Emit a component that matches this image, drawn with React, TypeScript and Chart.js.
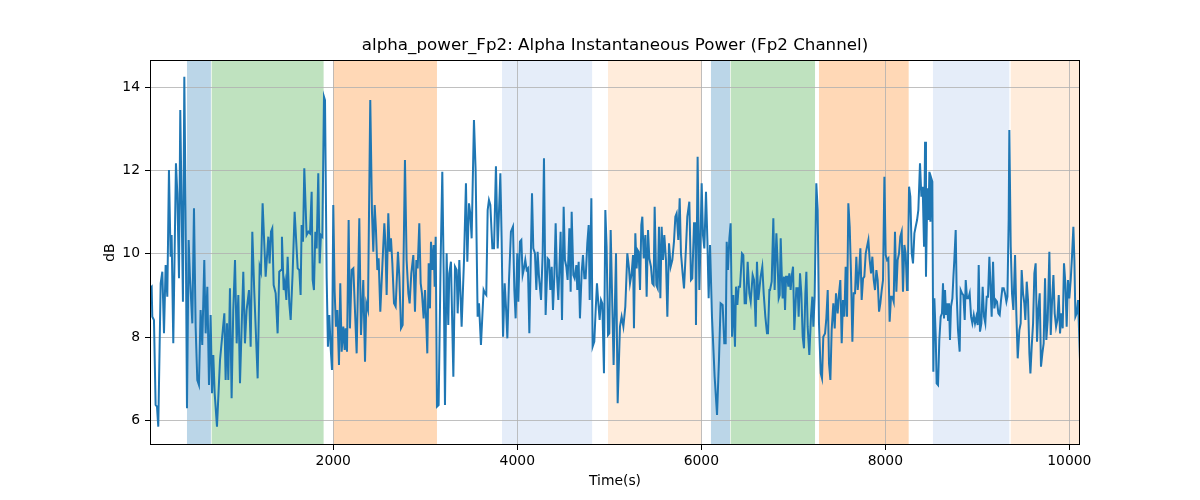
import { useEffect, useRef } from "react";
import { Chart, registerables } from "chart.js";

Chart.register(...registerables);

// sample times (s) and alpha power (dB) in six stretches
const timeSeg1 = [8, 26, 33, 51, 69, 84, 98, 124, 142, 160, 178, 196, 214, 232, 243, 261, 290, 305, 323, 337, 352, 366, 381, 395, 410, 428, 442, 468, 486, 504, 522, 540, 558, 576, 598, 613, 631, 649, 667, 682, 696, 711, 736, 769, 816, 830, 845, 859, 877, 895, 913, 932, 950, 968, 986, 1022, 1040, 1058, 1084, 1102, 1120, 1142, 1178, 1200, 1214, 1232, 1265, 1294, 1308, 1323, 1337, 1352, 1374, 1395, 1413, 1432, 1442, 1461, 1475, 1490, 1504, 1522, 1537, 1558, 1580, 1613, 1631, 1645, 1656, 1671, 1685];
const powerSeg1 = [9.17, 9.21, 8.49, 8.41, 6.37, 6.33, 5.85, 9.29, 9.57, 8.09, 9.73, 8.97, 12.01, 9.93, 10.45, 7.85, 12.17, 11.45, 9.41, 13.45, 11.05, 8.85, 14.25, 11.05, 6.29, 10.33, 9.45, 8.33, 11.09, 8.25, 6.97, 6.85, 8.65, 7.81, 9.85, 8.09, 9.21, 6.85, 8.53, 6.65, 7.57, 6.65, 5.85, 7.45, 8.57, 6.97, 8.33, 6.97, 9.17, 6.53, 8.65, 9.85, 7.85, 9.01, 6.89, 9.57, 7.85, 8.65, 9.13, 7.77, 10.53, 9.05, 7.01, 9.69, 9.57, 11.21, 9.45, 10.41, 9.77, 10.53, 10.61, 9.25, 9.05, 8.09, 9.57, 9.61, 10.41, 9.13, 9.33, 8.89, 9.93, 8.81, 8.41, 9.53, 11.01, 9.65, 9.61, 9.01, 10.69, 10.29, 12.05];

const timeSeg2 = [1710, 1729, 1747, 1765, 1776, 1790, 1805, 1819, 1837, 1852, 1866, 1881, 1899, 1910, 1928, 1942, 1957, 1971, 1986, 2000, 2015, 2029, 2044, 2062, 2076, 2091, 2109, 2124, 2134, 2149, 2167, 2181, 2200, 2218, 2254, 2283, 2301, 2326, 2345, 2359, 2377, 2402, 2421, 2435, 2450, 2464, 2479, 2493, 2511, 2537, 2555, 2566, 2580, 2598, 2613, 2627, 2642, 2660, 2678, 2703, 2718, 2736, 2754, 2779, 2797, 2816, 2830, 2848, 2870, 2888, 2903, 2917, 2935, 2950, 2964, 2982, 2997, 3008, 3022, 3037, 3051, 3062, 3076, 3091, 3102, 3113, 3127, 3145, 3167, 3185, 3200, 3214, 3232, 3250, 3261, 3279, 3305, 3323, 3341, 3352, 3370];
const powerSeg2 = [10.45, 10.53, 10.49, 11.49, 9.37, 9.13, 10.53, 10.13, 11.93, 9.77, 10.45, 10.41, 13.77, 13.69, 9.45, 7.77, 8.53, 7.77, 7.21, 11.17, 9.09, 8.25, 8.65, 7.33, 9.29, 7.65, 8.25, 7.69, 8.21, 7.65, 10.81, 8.21, 9.61, 9.65, 7.61, 10.85, 8.05, 9.37, 7.41, 8.81, 8.65, 13.69, 10.97, 10.05, 11.17, 10.57, 9.61, 9.89, 8.61, 9.89, 10.73, 10.29, 9.01, 10.97, 10.05, 10.37, 9.77, 8.81, 8.73, 10.05, 9.45, 8.21, 8.29, 12.25, 9.85, 9.05, 8.81, 9.53, 9.97, 8.61, 9.85, 9.65, 10.73, 9.29, 9.05, 8.45, 9.13, 8.49, 7.61, 9.77, 8.69, 10.29, 9.61, 10.21, 9.21, 10.41, 6.33, 6.37, 9.85, 11.97, 9.53, 6.37, 10.01, 8.29, 9.53, 9.81, 7.05, 9.69, 9.61, 8.57, 9.85];

const timeSeg3 = [3395, 3421, 3442, 3457, 3475, 3489, 3504, 3529, 3547, 3569, 3584, 3605, 3634, 3649, 3663, 3678, 3692, 3707, 3729, 3747, 3768, 3787, 3816, 3830, 3845, 3863, 3877, 3892, 3910, 3931, 3953, 3968, 3982, 4000, 4011, 4029, 4044, 4058, 4073, 4087, 4102, 4116, 4131, 4160, 4174, 4192, 4207, 4221, 4236, 4258, 4276, 4290, 4308, 4330, 4345, 4359, 4374, 4388, 4403, 4417, 4431, 4446, 4471, 4486, 4504, 4518, 4533, 4547, 4566, 4580, 4591, 4609, 4623, 4642, 4652, 4667, 4681, 4700, 4714, 4729, 4743, 4761, 4776, 4787, 4805, 4819, 4837, 4852, 4866, 4881, 4895, 4910, 4924, 4942, 4957, 4971, 4986, 5000, 5015, 5033, 5047];
const powerSeg3 = [8.25, 9.85, 11.69, 9.81, 11.21, 10.97, 10.37, 13.21, 12.01, 8.49, 8.81, 7.81, 9.13, 9.05, 9.01, 11.05, 11.29, 11.17, 10.13, 10.13, 12.1, 10.13, 11.93, 10.33, 8.01, 9.29, 8.73, 7.97, 9.37, 10.53, 10.65, 9.13, 8.45, 10.01, 8.85, 10.29, 10.33, 9.49, 9.65, 9.85, 9.61, 9.65, 8.09, 11.45, 10.13, 10.01, 9.13, 10.05, 9.45, 8.89, 10.01, 12.29, 8.53, 9.89, 9.85, 9.13, 9.69, 8.65, 9.49, 10.73, 9.49, 8.89, 10.53, 8.41, 11.13, 9.85, 9.69, 9.37, 10.61, 9.09, 11.01, 9.49, 9.41, 9.73, 9.13, 9.81, 8.45, 9.57, 9.97, 9.41, 9.41, 10.25, 10.69, 8.89, 11.33, 7.77, 7.89, 8.65, 9.29, 8.81, 8.41, 8.89, 8.81, 7.13, 11.05, 10.17, 8.05, 8.09, 10.57, 8.73, 7.33];

const timeSeg4 = [5073, 5091, 5116, 5134, 5153, 5174, 5196, 5214, 5225, 5243, 5258, 5268, 5283, 5297, 5308, 5319, 5334, 5348, 5359, 5374, 5392, 5406, 5421, 5435, 5453, 5468, 5482, 5493, 5511, 5526, 5540, 5555, 5569, 5584, 5598, 5616, 5631, 5649, 5667, 5685, 5703, 5718, 5732, 5750, 5765, 5779, 5797, 5812, 5834, 5848, 5870, 5888, 5902, 5921, 5935, 5942, 5960, 5979, 5993, 6004, 6018, 6033, 6051, 6066, 6080, 6095, 6116, 6145, 6171, 6192, 6210, 6232, 6250, 6265, 6276, 6290, 6305, 6319, 6334, 6348, 6366, 6377, 6392, 6406, 6421, 6442, 6457, 6471, 6486, 6504, 6522, 6537, 6558, 6573, 6591, 6605, 6620, 6645, 6663, 6678, 6696, 6714, 6725, 6740];
const powerSeg4 = [10.01, 6.41, 8.25, 8.49, 8.25, 8.73, 10.01, 9.65, 9.29, 9.53, 9.97, 8.21, 10.49, 9.65, 10.09, 10.05, 9.13, 10.69, 10.89, 9.89, 10.45, 8.97, 10.57, 9.89, 9.69, 9.29, 9.25, 11.13, 9.25, 9.17, 10.65, 8.93, 10.65, 9.85, 10.45, 9.85, 8.49, 10.25, 9.69, 9.85, 10.29, 10.89, 10.97, 10.33, 11.33, 10.01, 9.53, 9.17, 10.17, 10.89, 11.25, 9.37, 9.41, 10.73, 10.73, 8.29, 12.33, 9.13, 10.49, 11.69, 10.45, 10.13, 11.49, 10.33, 8.93, 10.21, 8.49, 7.05, 6.13, 7.45, 8.81, 8.77, 7.85, 7.85, 10.29, 9.61, 10.37, 10.73, 8.01, 9.01, 7.77, 9.21, 8.77, 9.21, 9.21, 10.01, 9.97, 8.81, 8.81, 9.81, 9.05, 8.85, 9.49, 9.37, 8.25, 9.81, 8.89, 9.45, 9.69, 9.05, 8.49, 8.09, 8.09, 9.13];

const timeSeg5 = [6747, 6765, 6783, 6797, 6816, 6830, 6841, 6852, 6863, 6874, 6884, 6899, 6910, 6921, 6935, 6946, 6957, 6971, 6982, 6997, 7011, 7033, 7048, 7058, 7073, 7087, 7102, 7116, 7131, 7142, 7156, 7174, 7192, 7207, 7218, 7232, 7250, 7265, 7279, 7298, 7312, 7326, 7345, 7359, 7374, 7388, 7403, 7417, 7435, 7450, 7464, 7482, 7497, 7511, 7526, 7540, 7555, 7569, 7584, 7598, 7613, 7627, 7642, 7656, 7671, 7685, 7700, 7714, 7729, 7743, 7758, 7772, 7787, 7805, 7816, 7830, 7845, 7859, 7874, 7888, 7903, 7917, 7932, 7946, 7961, 7975, 7990, 8004, 8019, 8033, 8047, 8062, 8076, 8091, 8105, 8120, 8134, 8149, 8163, 8178, 8192, 8207, 8221, 8236, 8243, 8258, 8272, 8287, 8301, 8316, 8330, 8345, 8359, 8377, 8392, 8406, 8421];
const powerSeg5 = [9.13, 9.33, 10.85, 9.13, 10.49, 9.77, 8.93, 9.01, 10.37, 9.53, 8.93, 9.45, 8.65, 9.45, 9.45, 9.21, 9.53, 9.13, 9.45, 9.69, 8.17, 9.17, 9.17, 8.49, 9.53, 9.05, 8.01, 7.73, 9.05, 9.57, 8.25, 7.57, 8.49, 8.97, 8.25, 8.97, 11.69, 11.05, 8.33, 7.13, 7.01, 8.01, 8.09, 8.45, 9.13, 7.37, 6.97, 8.17, 8.81, 8.21, 9.05, 8.57, 9.05, 9.37, 7.85, 8.89, 8.49, 9.69, 8.49, 11.21, 10.65, 9.53, 7.89, 9.05, 9.05, 9.93, 9.13, 9.53, 10.13, 8.89, 9.41, 9.45, 10.01, 10.21, 10.33, 9.85, 9.53, 9.93, 9.37, 9.13, 9.61, 9.37, 8.61, 8.81, 9.13, 9.37, 11.85, 9.97, 9.85, 9.89, 8.37, 8.97, 8.97, 8.85, 10.53, 9.09, 9.85, 10.01, 10.41, 10.53, 9.09, 10.21, 10.01, 9.13, 9.21, 11.61, 11.37, 10.01, 9.77, 10.49, 10.65, 10.81, 11.05, 12.17, 11.37, 11.61, 10.17];

const timeSeg6 = [8432, 8442, 8457, 8468, 8479, 8490, 8500, 8511, 8522, 8533, 8548, 8558, 8573, 8587, 8602, 8616, 8627, 8638, 8649, 8660, 8671, 8682, 8692, 8703, 8714, 8729, 8740, 8750, 8765, 8776, 8790, 8808, 8819, 8834, 8848, 8863, 8874, 8888, 8903, 8917, 8932, 8946, 8961, 8975, 8990, 9004, 9015, 9029, 9044, 9058, 9073, 9087, 9102, 9116, 9131, 9145, 9156, 9171, 9185, 9200, 9214, 9229, 9243, 9258, 9272, 9287, 9301, 9316, 9327, 9341, 9348, 9363, 9377, 9392, 9410, 9424, 9439, 9457, 9471, 9482, 9497, 9511, 9522, 9537, 9551, 9566, 9577, 9591, 9606, 9620, 9634, 9649, 9663, 9678, 9692, 9707, 9721, 9736, 9750, 9765, 9783, 9798, 9812, 9827, 9841, 9856, 9870, 9885, 9899, 9913, 9928, 9942, 9957, 9971, 9986, 10000, 10015, 10029, 10044, 10055, 10066, 10080, 10095, 10116];
const powerSeg6 = [12.69, 9.45, 11.57, 10.81, 11.97, 10.77, 11.81, 11.73, 7.17, 8.93, 8.01, 6.89, 6.85, 7.93, 8.49, 8.57, 9.29, 8.45, 9.13, 8.53, 8.81, 8.41, 8.81, 7.93, 8.73, 8.93, 9.45, 9.85, 10.57, 9.01, 8.17, 7.65, 9.13, 9.05, 9.01, 8.41, 9.37, 8.93, 8.93, 9.05, 8.49, 8.33, 8.53, 8.33, 8.49, 8.29, 9.73, 8.13, 8.33, 9.21, 8.49, 8.33, 8.97, 8.97, 9.93, 9.13, 8.49, 9.81, 8.69, 8.89, 8.85, 8.57, 8.53, 8.89, 9.17, 9.17, 9.05, 8.85, 8.97, 10.85, 12.97, 10.17, 9.05, 8.65, 9.97, 8.57, 7.49, 8.17, 8.33, 9.61, 9.05, 8.81, 8.41, 9.33, 8.89, 7.61, 7.13, 7.77, 8.33, 9.53, 9.77, 7.89, 8.65, 9.05, 7.29, 7.61, 7.85, 9.41, 7.93, 8.41, 10.05, 8.05, 8.85, 9.49, 8.57, 8.25, 8.41, 9.01, 8.09, 8.57, 8.21, 9.77, 9.29, 8.25, 9.37, 8.93, 9.37, 9.93, 10.65, 9.85, 8.49, 8.57, 8.89, 7.45];

const times = [...timeSeg1, ...timeSeg2, ...timeSeg3, ...timeSeg4, ...timeSeg5, ...timeSeg6];
const power = [...powerSeg1, ...powerSeg2, ...powerSeg3, ...powerSeg4, ...powerSeg5, ...powerSeg6];

// shaded state intervals
const bandStart = [410, 678, 2000, 3834, 4986, 6105, 6319, 7279, 8518, 9363];
const bandEnd = [670, 1895, 3127, 4813, 6004, 6312, 7236, 8254, 9348, 10116];
const bandKind = ["blue", "green", "orange", "lightblue", "lightorange", "blue", "green", "orange", "lightblue", "lightorange"];

const xTicks = [2000, 4000, 6000, 8000, 10000];
const yTicks = [6, 8, 10, 12, 14];

const bandColors: Record<string, string> = {
  blue: "rgba(31, 119, 180, 0.3)",
  green: "rgba(44, 160, 44, 0.3)",
  orange: "rgba(255, 127, 14, 0.3)",
  lightblue: "rgba(100, 150, 220, 0.17)",
  lightorange: "rgba(255, 127, 14, 0.15)",
};

const FONT = "'DejaVu Sans', sans-serif";

const bandsPlugin = {
  id: "bands",
  beforeDraw(chart: Chart) {
    const { ctx, chartArea } = chart;
    const x = chart.scales.x;
    ctx.save();
    ctx.beginPath();
    ctx.rect(chartArea.left, chartArea.top, chartArea.right - chartArea.left, chartArea.bottom - chartArea.top);
    ctx.clip();
    bandStart.forEach((s, i) => {
      const x0 = x.getPixelForValue(s);
      const x1 = x.getPixelForValue(bandEnd[i]);
      ctx.fillStyle = bandColors[bandKind[i]];
      ctx.fillRect(x0, chartArea.top, x1 - x0, chartArea.bottom - chartArea.top);
    });
    ctx.restore();
  },
  afterDraw(chart: Chart) {
    const { ctx, chartArea } = chart;
    ctx.save();
    ctx.strokeStyle = "#000";
    ctx.lineWidth = 1;
    ctx.strokeRect(
      Math.round(chartArea.left) + 0.5,
      Math.round(chartArea.top) + 0.5,
      Math.round(chartArea.right - chartArea.left) - 1,
      Math.round(chartArea.bottom - chartArea.top) - 1
    );
    ctx.restore();
  },
};

const AlphaPowerChart = () => {
  const chartRef = useRef<HTMLCanvasElement>(null);
  const chartInstance = useRef<Chart | null>(null);

  useEffect(() => {
    document.body.style.margin = "0";
    if (!chartRef.current) return;
    if (chartInstance.current) chartInstance.current.destroy();

    const ctx = chartRef.current.getContext("2d");
    if (!ctx) return;

    chartInstance.current = new Chart(ctx, {
      type: "line",
      data: {
        datasets: [
          {
            label: "alpha_power_Fp2",
            data: times.map((t, i) => ({ x: t, y: power[i] })),
            borderColor: "#1f77b4",
            borderWidth: 2,
            pointRadius: 0,
            tension: 0,
            fill: false,
          },
        ],
      },
      options: {
        responsive: false,
        animation: false,
        events: [],
        devicePixelRatio: 1,
        layout: { padding: { left: 100, right: 120, top: 0, bottom: 10 } },
        plugins: {
          legend: { display: false },
          tooltip: { enabled: false },
          title: {
            display: true,
            text: "alpha_power_Fp2: Alpha Instantaneous Power (Fp2 Channel)",
            color: "#000",
            fullSize: false,
            font: { family: FONT, size: 16.7, weight: "normal" },
            padding: { top: 36, bottom: 4 },
          },
        },
        scales: {
          x: {
            type: "linear",
            min: 8,
            max: 10116,
            afterFit: (scale: any) => {
              scale.height = 45;
            },
            afterBuildTicks: (scale: any) => {
              scale.ticks = xTicks.map((v) => ({ value: v }));
            },
            border: { display: false },
            grid: { color: "#b0b0b0", lineWidth: 0.8, tickColor: "#000", tickLength: 5, tickWidth: 1 },
            ticks: {
              color: "#000",
              padding: 3,
              maxRotation: 0,
              font: { family: FONT, size: 13.9 },
              callback: (v: any) => String(v),
            },
            title: {
              display: true,
              text: "Time(s)",
              color: "#000",
              font: { family: FONT, size: 13.9 },
              padding: { top: 0, bottom: 0 },
            },
          },
          y: {
            type: "linear",
            min: 5.41,
            max: 14.65,
            afterFit: (scale: any) => {
              scale.width = 50;
            },
            afterBuildTicks: (scale: any) => {
              scale.ticks = yTicks.map((v) => ({ value: v }));
            },
            border: { display: false },
            grid: { color: "#b0b0b0", lineWidth: 0.8, tickColor: "#000", tickLength: 5, tickWidth: 1 },
            ticks: {
              color: "#000",
              padding: 5,
              font: { family: FONT, size: 13.9 },
              callback: (v: any) => String(v),
            },
            title: {
              display: true,
              text: "dB",
              color: "#000",
              font: { family: FONT, size: 13.9 },
              padding: { top: 2, bottom: 0 },
            },
          },
        },
      },
      plugins: [bandsPlugin],
    });

    return () => {
      if (chartInstance.current) {
        chartInstance.current.destroy();
        chartInstance.current = null;
      }
    };
  }, []);

  return (
    <div style={{ width: 1200, height: 500, background: "#fff" }}>
      <canvas ref={chartRef} width={1200} height={500} />
    </div>
  );
};

export default function App() {
  return <AlphaPowerChart />;
}
